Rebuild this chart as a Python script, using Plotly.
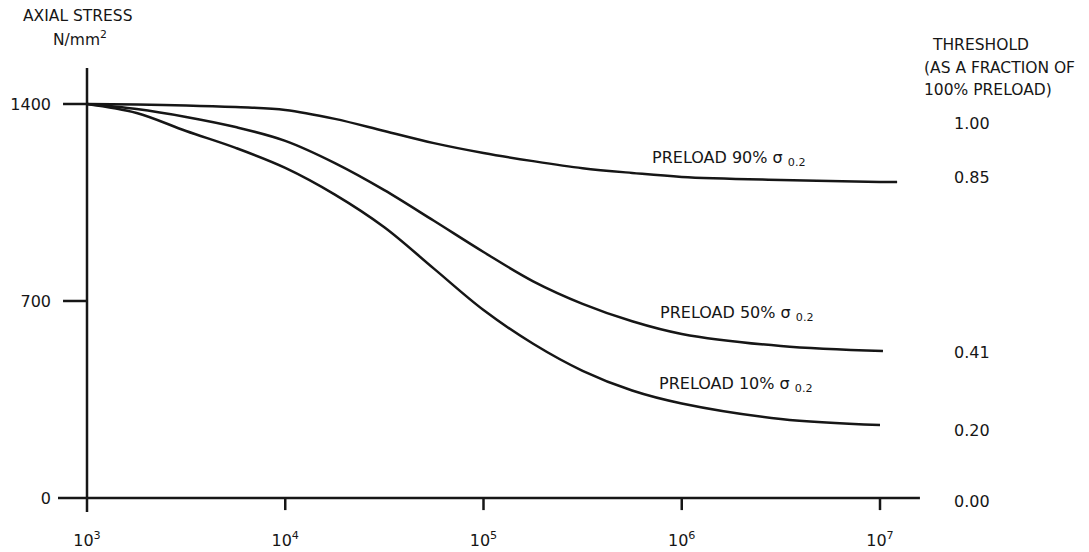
import numpy as np
import plotly.graph_objects as go

# ---- data ----
cycles_90 = [1000, 1780, 3160, 5620, 10000, 17800, 31600, 56200, 100000, 178000,
             316000, 562000, 1000000, 3160000, 10000000, 12200000]
stress_90 = [1400, 1398, 1395, 1389, 1379, 1347, 1304, 1261, 1226, 1197,
             1172, 1155, 1141, 1130, 1123, 1123]

cycles_50 = [1000, 1780, 3160, 5620, 10000, 17800, 31600, 56200, 100000, 178000,
             316000, 562000, 1000000, 3160000, 10350000]
stress_50 = [1400, 1382, 1354, 1318, 1269, 1190, 1094, 985, 874, 770,
             690, 628, 583, 540, 522]

cycles_10 = [1000, 1780, 3160, 5620, 10000, 17800, 31600, 56200, 100000, 178000,
             316000, 562000, 1000000, 3160000, 10000000]
stress_10 = [1400, 1368, 1304, 1244, 1173, 1078, 962, 815, 668, 548,
             452, 382, 336, 281, 259]

curve_labels = ["PRELOAD 90% σ <sub>0.2</sub>", "PRELOAD 50% σ <sub>0.2</sub>",
                "PRELOAD 10% σ <sub>0.2</sub>"]

x_tick_vals = [1e3, 1e4, 1e5, 1e6, 1e7]
x_tick_text = ["10<sup>3</sup>", "10<sup>4</sup>", "10<sup>5</sup>", "10<sup>6</sup>", "10<sup>7</sup>"]
y_tick_vals = [0, 700, 1400]
y_tick_text = ["0", "700", "1400"]

threshold_labels = ["1.00", "0.85", "0.41", "0.20", "0.00"]

# ---- style ----
INK = "#161616"
FONT = dict(family="DejaVu Sans", size=16, color=INK)
HFONT = dict(family="DejaVu Sans", size=15.5, color=INK)
LW = 2.5

fig = go.Figure()

# curves
for cx, cy in [(cycles_90, stress_90), (cycles_50, stress_50), (cycles_10, stress_10)]:
    fig.add_trace(go.Scatter(x=cx, y=cy, mode="lines",
                             line=dict(color=INK, width=LW, shape="spline", smoothing=1.0),
                             hoverinfo="skip", showlegend=False))

# drawn axes (lines through the data scales)
axis_style = dict(mode="lines", line=dict(color=INK, width=LW), hoverinfo="skip", showlegend=False)
fig.add_trace(go.Scatter(x=[1000, 1000], y=[-50, 1528], **axis_style))
fig.add_trace(go.Scatter(x=[714, 15900000], y=[0, 0], **axis_style))
for yv in y_tick_vals[1:]:
    fig.add_trace(go.Scatter(x=[757, 1000], y=[yv, yv], **axis_style))
for xv in x_tick_vals[1:]:
    fig.add_trace(go.Scatter(x=[xv, xv], y=[0, -43], **axis_style))

annotations = []
# axis title (top-left)
annotations.append(dict(x=0.0236, y=1.0967, xref="paper", yref="paper", text="AXIAL STRESS",
                        showarrow=False, xanchor="center", yanchor="middle", font=HFONT))
annotations.append(dict(x=0.0248, y=1.0462, xref="paper", yref="paper", text="N/mm<sup>2</sup>",
                        showarrow=False, xanchor="center", yanchor="middle", font=HFONT))
# threshold header (right)
for txt, lx, yy in [("THRESHOLD", 1.0058, 1.033), ("(AS A FRACTION OF", 0.9965, 0.9824),
                    ("100% PRELOAD)", 0.9965, 0.9341)]:
    annotations.append(dict(x=lx, y=yy, xref="paper", yref="paper", text=txt, showarrow=False,
                            xanchor="left", yanchor="middle", font=HFONT))
# threshold values
for txt, yy in zip(threshold_labels, [0.8615, 0.7407, 0.3582, 0.1868, 0.0286]):
    annotations.append(dict(x=1.0311, y=yy, xref="paper", yref="paper", text=txt, showarrow=False,
                            xanchor="left", yanchor="middle", font=FONT))
# curve labels
for txt, lx, yy in zip(curve_labels, [5.840, 5.880, 5.875], [1205, 654, 402]):
    annotations.append(dict(x=lx, y=yy, xref="x", yref="y", text=txt, showarrow=False,
                            xanchor="left", yanchor="middle", font=FONT))

# page body adds an 8px margin, so the figure is offset by 8px in the window
fig.update_layout(
    width=1073, height=544,
    margin=dict(l=50, r=156, t=52, b=37, autoexpand=False),
    paper_bgcolor="white", plot_bgcolor="white",
    font=FONT,
    showlegend=False,
    annotations=annotations,
    xaxis=dict(type="log", range=[2.8537, 7.227], showgrid=False, zeroline=False,
               showline=False, ticks="", tickvals=x_tick_vals, ticktext=x_tick_text,
               ticklabelstandoff=14, tickfont=FONT, automargin=False),
    yaxis=dict(range=[-60.4, 1556.3], showgrid=False, zeroline=False, showline=False,
               ticks="", tickvals=y_tick_vals, ticktext=y_tick_text,
               ticklabelstandoff=6, tickfont=FONT, automargin=False),
)

fig.write_html("out.html")
